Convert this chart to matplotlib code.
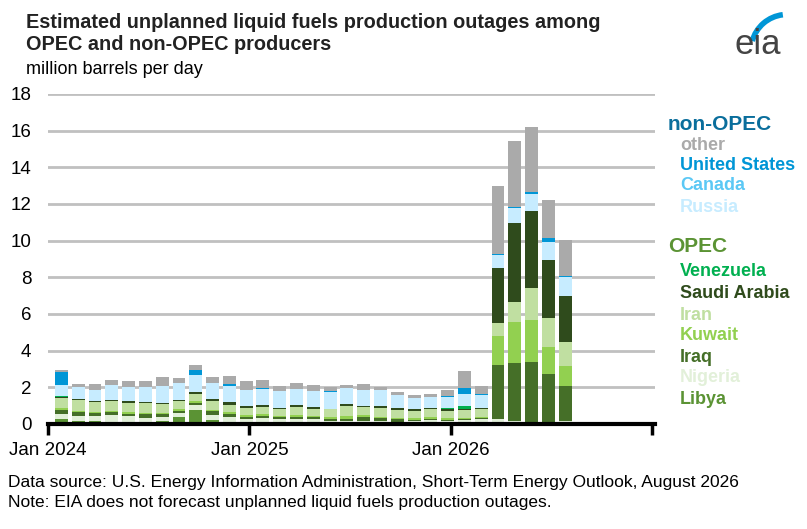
import matplotlib
matplotlib.use("Agg")
import matplotlib.pyplot as plt
import numpy as np
from matplotlib.patches import Arc

plt.rcParams['font.family'] = ['Liberation Sans', 'DejaVu Sans']

months = [f"{y}-{m:02d}" for y in (2024, 2025) for m in range(1, 13)] + [f"2026-{m:02d}" for m in range(1, 8)]

libya   = [.27,.16,.16,.11,.11,.05,.16,.38,.76,.22,.11,.05, .13,.11,.11,.05,.05,.05,.07,.11,.04,.05,.05,.05, .11,.07,.11,.07,.04,.07,0.0]
nigeria = [.28,.27,.27,.38,.33,.27,.22,.22,.27,.27,.27,.22, .20,.16,.16,.22,.11,.11,.09,.05,.07,.11,.16,.11, .11,.22,.14,.09,.07,.04,.16]
iraq    = [.22,.25,.18,.18,.11,.24,.16,.13,.11,.24,.18,.13, .11,.11,.11,.11,.11,.11,.22,.16,.16,.05,.05,.05, .05,.05,2.97,3.17,3.27,2.62,1.91]
kuwait  = [.09,.04,.05,.05,.11,.05,.05,.09,.11,.04,.11,.09, .11,.05,.11,.05,.11,.16,.11,.05,.05,.11,.11,.11, .05,.05,1.58,2.23,2.29,1.47,1.09]
iran    = [.55,.58,.55,.55,.49,.53,.49,.44,.38,.49,.38,.38, .38,.38,.44,.38,.42,.55,.44,.49,.44,.38,.44,.38, .44,.44,.71,1.09,1.75,1.58,1.31]
saudi   = [.07,.05,.05,.05,.13,.07,.07,.07,.11,.11,.13,.11, .11,.05,.11,.11,.02,.11,.05,.11,.11,.11,.05,.11, .05,.05,3.00,4.31,4.20,3.17,2.51]
venez   = [.06,0,0,0,0,0,0,0,0,0,0,0, 0,0,0,0,0,0,0,0,0,0,0,.05, .16,.02,0,0,0,0,0]
russia  = [.60,.67,.62,.80,.76,.82,.93,.91,.93,.87,.91,.87, .87,.93,.87,.87,.93,.87,.87,.87,.71,.60,.60,.60, .65,.69,.71,.82,.93,.98,1.04]
canada  = [0.0]*31
us      = [.67,0,0,0,0,0,0,0,.27,0,.11,0, .05,0,0,0,.04,0,0,0,0,0,0,.05, .33,.06,.05,.06,.10,.22,.05]
other   = [.15,.16,.31,.29,.31,.33,.47,.27,.29,.33,.44,.49, .42,.27,.33,.33,.24,.16,.33,.16,.16,.16,.16,.33, .93,.43,3.71,3.60,3.55,2.07,1.96]

series = [("Libya", libya, "#5b9334"), ("Nigeria", nigeria, "#e2f0d9"), ("Iraq", iraq, "#456f28"),
          ("Kuwait", kuwait, "#92d050"), ("Iran", iran, "#c0dfa1"), ("Saudi Arabia", saudi, "#2f4b1c"),
          ("Venezuela", venez, "#00b050"), ("Russia", russia, "#c7ecff"), ("Canada", canada, "#5bc8f5"),
          ("United States", us, "#0096d6"), ("other", other, "#aaaaaa")]

fig = plt.figure(figsize=(8.07, 5.29), dpi=100)
ax = fig.add_axes([48/807, 1-424/529, (655-48)/807, (424-94)/529])
x = np.arange(len(months))
bottom = np.zeros(len(months))
for name, vals, col in series:
    v = np.array(vals)
    ax.bar(x + 0.05, v, bottom=bottom, width=0.77, color=col, linewidth=0, zorder=3)
    bottom += v

ax.set_ylim(0, 18)
ax.set_xlim(-0.75, 35.4)
ax.set_yticks(range(0, 19, 2))
ax.yaxis.grid(True, color="#c0c0c0", linewidth=2, zorder=0)
ax.tick_params(axis="y", length=0, labelsize=13.5, pad=12)
for s in ("top", "right", "left"):
    ax.spines[s].set_visible(False)
ax.spines["bottom"].set_linewidth(3)
ax.spines["bottom"].set_zorder(5)
ax.set_xticks([-0.75, 11.25, 23.25, 35.25])
ax.set_xticklabels(["Jan 2024", "Jan 2025", "Jan 2026", ""], fontsize=13.5)
ax.tick_params(axis="x", length=8, width=2.5, direction="out", pad=5)

fig.text(26/807, 1-22/529, "Estimated unplanned liquid fuels production outages among",
         fontsize=14.3, fontweight="bold", va="center", ha="left", color="#222222")
fig.text(26/807, 1-45/529, "OPEC and non-OPEC producers",
         fontsize=14.3, fontweight="bold", va="center", ha="left", color="#222222")
fig.text(26/807, 1-69/529, "million barrels per day", fontsize=13, va="center", ha="left")

def leg(y, t, c, size=13, xoff=680):
    fig.text(xoff/807, 1-y/529, t, color=c, fontsize=size, fontweight="bold", va="center", ha="left")
leg(124, "non-OPEC", "#0a6e9c", size=15, xoff=668)
leg(145, "other", "#aaaaaa")
leg(166, "United States", "#0096d6")
leg(186, "Canada", "#5bc8f5")
leg(207, "Russia", "#c7ecff")
leg(247, "OPEC", "#5b9334", size=15, xoff=668)
leg(272, "Venezuela", "#00b050")
leg(294, "Saudi Arabia", "#2f4b1c")
leg(315, "Iran", "#c0dfa1")
leg(336, "Kuwait", "#92d050")
leg(357, "Iraq", "#456f28")
leg(378, "Nigeria", "#e2f0d9")
leg(399, "Libya", "#5b9334")

fig.text(8/807, 1-482/529, "Data source: U.S. Energy Information Administration, Short-Term Energy Outlook, August 2026",
         fontsize=12.5, va="center", ha="left")
fig.text(8/807, 1-502/529, "Note: EIA does not forecast unplanned liquid fuels production outages.",
         fontsize=12.5, va="center", ha="left")

# eia logo
fig.text(758/807, 1-44/529, "eia", fontsize=25, color="#444444", ha="center", va="center")
lax = fig.add_axes([730/807, 1-55/529, 60/807, 45/529])
lax.set_xlim(0, 1); lax.set_ylim(0, 1); lax.axis("off")
lax.add_patch(Arc((0.95, 0.1), 1.2, 1.6, theta1=95, theta2=160, color="#0096d6", linewidth=4))

fig.savefig("out.png", dpi=100)
